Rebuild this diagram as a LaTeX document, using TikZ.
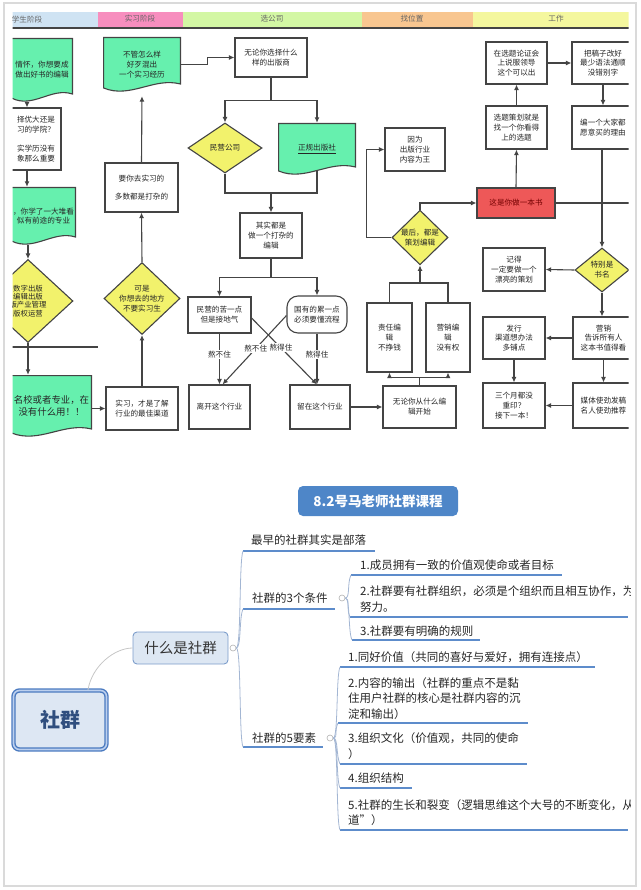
\documentclass[tikz,border=0pt]{standalone}
\usepackage{fontspec}
\setmainfont{Noto Sans CJK SC}
\usetikzlibrary{arrows.meta,shapes.geometric,calc}

\definecolor{linegray}{HTML}{444444}
\definecolor{docgreen}{HTML}{66F0AE}
\definecolor{decyellow}{HTML}{F2F26C}
\definecolor{bookred}{HTML}{EE5858}
\definecolor{bandblue}{HTML}{CFE3F3}
\definecolor{bandpink}{HTML}{F78EBE}
\definecolor{bandgreen}{HTML}{D3F7A4}
\definecolor{bandorange}{HTML}{F8C690}
\definecolor{bandyellow}{HTML}{F4F79E}
\definecolor{titleblue}{HTML}{4E86C8}
\definecolor{ulblue}{HTML}{5D8CCB}
\definecolor{twigblue}{HTML}{A3B6D3}
\definecolor{topicfill}{HTML}{DDE7F3}
\definecolor{topicline}{HTML}{7C9DCB}
\definecolor{rootline}{HTML}{4A7AC0}
\definecolor{rootgap}{HTML}{BCD0EE}
\definecolor{roottext}{HTML}{2F4E7E}
\definecolor{framegray}{HTML}{DADADA}

\begin{document}
\begin{tikzpicture}[
  x=1pt, y=-1pt,
  fc/.style={font=\fontsize{7.6}{9.8}\selectfont, text=black!85, align=center, inner sep=0pt},
  box/.style={fc, draw=linegray, line width=1.1pt, fill=white},
  choice/.style={fc, diamond, draw=linegray, line width=1.1pt, fill=decyellow},
  doc/.style={fc, path picture={
    \filldraw[fill=docgreen, draw=linegray, line width=1.1pt]
      ([shift={(0.55pt,-0.55pt)}]path picture bounding box.north west)
      -- ([shift={(-0.55pt,-0.55pt)}]path picture bounding box.north east)
      -- ([shift={(-0.55pt,8pt)}]path picture bounding box.south east)
      .. controls ($(path picture bounding box.south west)!0.65!(path picture bounding box.south east)+(0pt,15pt)$)
      and ($(path picture bounding box.south west)!0.35!(path picture bounding box.south east)+(0pt,-7pt)$)
      .. ([shift={(0.55pt,4pt)}]path picture bounding box.south west) -- cycle;}},
  arrow/.style={-{Latex[length=5.5pt,width=5pt]}, draw=linegray, line width=1.1pt},
  link/.style={draw=linegray, line width=1.1pt},
  band/.style={font=\fontsize{7.6}{9}\selectfont, text=black!60, inner sep=0pt},
  tag/.style={fc, fill=white, inner sep=1pt},
  title/.style={fill=titleblue, text=white, rounded corners=5pt, minimum width=160, minimum height=30,
    font=\fontsize{13.5}{16}\selectfont\bfseries},
  root/.style={draw=rootline, double=rootgap, double distance=1.6pt, line width=1.4pt, fill=topicfill,
    rounded corners=6pt, minimum width=93, minimum height=59, text=roottext,
    font=\fontsize{20}{24}\selectfont\bfseries},
  topic/.style={draw=topicline, line width=0.9pt, fill=topicfill, rounded corners=4pt,
    minimum width=95, minimum height=32, text=black!80, font=\fontsize{14.5}{17}\selectfont},
  leaf/.style={anchor=north west, inner sep=0pt, align=left, text=black!85,
    font=\fontsize{11.5}{16}\selectfont},
  uline/.style={draw=ulblue, line width=1.3pt},
  twig/.style={draw=twigblue, line width=0.8pt},
  fold/.style={circle, draw=gray!60, fill=white, inner sep=0pt, minimum size=6pt, line width=0.6pt}
]
\useasboundingbox (0,0) rectangle (640,890);
\draw[framegray, line width=1.2pt] (4,3) rectangle (636,886);

% flow chart, cut at both sides
\begin{scope}
\clip (12.5,10) rectangle (628.5,440);

% lanes
\fill[bandblue] (0,12) rectangle (98,27);
\fill[bandpink] (98,12) rectangle (183,27);
\fill[bandgreen] (183,12) rectangle (362,27);
\fill[bandorange] (362,12) rectangle (473,27);
\fill[bandyellow] (473,12) rectangle (640,27);
\draw[linegray, line width=1.2pt] (0,28) -- (640,28);
\node[band] (lane1) at (27,20) {学生阶段};
\node[band] (lane2) at (140,19) {实习阶段};
\node[band] (lane3) at (272,19) {选公司};
\node[band] (lane4) at (412,19) {找位置};
\node[band] (lane5) at (556,19) {工作};
\draw[link] (0,347) -- (98,347);

% student
\node[doc, minimum width=62, minimum height=64] (a1) at (42,70) {情怀，你想要成\\做出好书的编辑};
\node[box, minimum width=50, minimum height=62] (a2) at (36,139) {择优大还是\\习的学院？\\[9pt]实学历没有\\象那么重要};
\node[doc, minimum width=65, minimum height=58] (a3) at (43.5,216) {，你学了一大堆看\\似有前途的专业};
\node[choice, minimum width=90, minimum height=83, font=\fontsize{7.4}{8.2}\selectfont] (a4) at (28,301) {数字出版\\编辑出版\\版产业管理\\版权运营};
\node[doc, minimum width=81, minimum height=62, font=\fontsize{9.4}{12}\selectfont] (a5) at (51.5,406) {名校或者专业，在\\没有什么用！！};

% internship
\node[doc, minimum width=78, minimum height=55] (b1) at (142,64.5) {不管怎么样\\好歹混出\\一个实习经历};
\node[box, minimum width=73, minimum height=49] (b2) at (141.5,187.5) {要你去实习的\\[9pt]多数都是打杂的};
\node[choice, minimum width=76, minimum height=65] (b3) at (142,298.5) {可是\\你想去的地方\\不要实习生};
\node[box, minimum width=72, minimum height=43] (b4) at (142,408.5) {实习，才是了解\\行业的最佳渠道};

% company
\node[box, minimum width=72, minimum height=39] (c1) at (271,57.5) {无论你选择什么\\样的出版商};
\node[choice, minimum width=74, minimum height=50] (c2) at (225,148) {民营公司};
\node[doc, minimum width=78, minimum height=52] (c3) at (317,149) {\underline{正规出版社}};
\node[box, minimum width=62, minimum height=45] (c4) at (271,235.5) {其实都是\\做一个打杂的\\编辑};
\node[box, minimum width=63, minimum height=36] (c5) at (219.5,315) {民营的苦一点\\但是接地气};
\node[box, rounded corners=11pt, minimum width=60, minimum height=37] (c6) at (317,314.5) {国有的累一点\\必须要懂流程};
\node[box, minimum width=61, minimum height=44] (c7) at (219.5,407) {离开这个行业};
\node[box, minimum width=60, minimum height=44] (c8) at (320,407) {留在这个行业};

% position
\node[box, minimum width=60, minimum height=43] (d1) at (415,149.5) {因为\\出版行业\\内容为王};
\node[choice, minimum width=56, minimum height=51] (d2) at (420,237.5) {最后，都是\\策划编辑};
\node[box, minimum width=45, minimum height=69] (d3) at (389.5,337.5) {责任编\\辑\\不挣钱};
\node[box, minimum width=44, minimum height=69] (d4) at (448,337.5) {营销编\\辑\\没有权};
\node[box, minimum width=73, minimum height=42] (d5) at (419.5,407) {无论你从什么编\\辑开始};

% work
\node[box, fill=bookred, text=red!45!black, minimum width=78, minimum height=30] (e1) at (516,203) {这是你做一本书};
\node[box, minimum width=61, minimum height=43] (e2) at (516.5,127.5) {选题策划就是\\找一个你看得\\上的选题};
\node[box, minimum width=61, minimum height=42] (e3) at (516.5,63) {在选题论证会\\上说服领导\\这个可以出};
\node[box, minimum width=62, minimum height=42] (e4) at (603,63) {把稿子改好\\最少语法通顺\\没错别字};
\node[box, minimum width=62, minimum height=43] (e5) at (603,127.5) {编一个大家都\\愿意买的理由};
\node[choice, minimum width=54, minimum height=44] (e6) at (602,270) {特别是\\书名};
\node[box, minimum width=62, minimum height=43] (e7) at (514,269.5) {记得\\一定要做一个\\漂亮的策划};
\node[box, minimum width=61, minimum height=42] (e8) at (603.5,338) {营销\\告诉所有人\\这本书值得看};
\node[box, minimum width=62, minimum height=42] (e9) at (514,338) {发行\\渠道想办法\\多铺点};
\node[box, minimum width=62, minimum height=45] (e10) at (514,405.5) {三个月都没\\重印？\\接下一本！};
\node[box, minimum width=61, minimum height=45] (e11) at (603.5,405.5) {媒体使劲发稿\\名人使劲推荐};

% student links
\coordinate (ax) at (27,0);
\draw[arrow] (a1.south -| ax) -- (a2.north -| ax);
\draw[arrow] (a2.south -| ax) -- (a3.north -| ax);
\draw[arrow] (a3.south -| a4.north) -- (a4.north);
\draw[arrow] (a4.south) -- (a5.north -| a4.south);
\draw[arrow] (a5.east |- b4) -- (b4.west);

% internship links
\draw[arrow] (b4.north) -- (b3.south);
\draw[arrow] (b3.north) -- (b2.south);
\draw[arrow, shorten >=4pt] (b2.north) -- (b1.south);
\draw[arrow] (b1.east) -- ++(26,0) |- (c1.west);

% company links
\draw[link] (c1.south) -- ++(0,23) coordinate (c1split);
\draw[arrow] (c1split) -| (c2.north);
\draw[arrow] (c1split) -| (c3.north);
\coordinate (cjoin) at (271,193);
\draw[link] (c2.south) |- (cjoin) -| ([yshift=4.5pt]c3.south);
\draw[arrow] (cjoin) -- (c4.north);
\draw[link] (c4.south) -- ++(0,19) coordinate (c4split);
\draw[arrow] (c4split) -| (c5.north);
\draw[arrow] (c4split) -| (c6.north);
\draw[arrow] (c5.south) -- node[tag, pos=0.42] (t1) {熬不住} (c7.north);
\draw[arrow] (c6.south) -- node[tag, pos=0.42] (t2) {熬得住} (c6.south |- c8.north);
\draw[arrow] ([yshift=-3pt]c5.east) -- node[tag, pos=0.45] (t3) {熬得住} ([xshift=-3pt]c8.north);
\draw[arrow] ([yshift=-1pt]c6.west) -- node[tag, pos=0.48] (t4) {熬不住} ([xshift=3pt]c7.north);
\draw[arrow] (c8.east) -- (d5.west);

% position links
\draw[link] (d5.north) -- ++(0,-8) coordinate (d5split);
\draw[arrow] (d5split) -| (d3.south);
\draw[arrow] (d5split) -| (d4.south);
\coordinate (djoin) at (420,283);
\draw[link] (d3.north) |- (djoin) -| (d4.north);
\draw[arrow] (djoin) -- (d2.south);
\draw[arrow] (d2.west) -- ++(-25,0) |- (d1.west);
\draw[arrow] (d2.north) |- (e1.west);

% work links
\draw[arrow] (e1.north) -- (e2.south);
\draw[arrow] (e2.north) -- (e3.south);
\draw[arrow] (e3.east) -- (e4.west);
\draw[arrow] (e4.south) -- (e5.north);
\draw[arrow] (e5.south -| e6.north) -- (e6.north);
\coordinate (eout) at (640,203);
\draw[link] (e1.east) -- (eout);
\draw[arrow] (e6.west) -- (e7.east);
\draw[arrow] (e6.south) -- (e8.north -| e6.south);
\draw[arrow] (e8.west) -- (e9.east);
\draw[arrow] (e9.south) -- (e10.north);
\draw[arrow] (e8.south) -- (e11.north);
\draw[arrow] (e11.west) -- (e10.east);
\end{scope}

% mind map
\begin{scope}
\clip (5,470) rectangle (630,885);
\node[title] (course) at (378,501) {8.2号马老师社群课程};
\node[root] (root) at (60,720) {社群};
\node[topic] (what) at (180.5,648) {什么是社群};
\draw[twig, draw=gray!45] ([xshift=28pt]root.north) .. controls +(4,-24) and +(-18,0) .. (what.west);

\node[leaf] (tribe) at (251,534.25) {最早的社群其实是部落};
\node[leaf] (three) at (252,592.25) {社群的3个条件};
\node[leaf] (five) at (252,732.25) {社群的5要素};
\draw[uline] (243,551) coordinate (tribeL) -- (375,551);
\draw[uline] (243,609) coordinate (threeL) -- (335,609);
\draw[uline] (243,747) coordinate (fiveL) -- (323,747);

\node[leaf] (c31) at (360,559.25) {1.成员拥有一致的价值观使命或者目标};
\node[leaf] (c32) at (360,585.25) {2.社群要有社群组织，必须是个组织而且相互协作，为\\努力。};
\node[leaf] (c33) at (360,625.75) {3.社群要有明确的规则};
\draw[uline] (351,575) coordinate (c31L) -- (562,575);
\draw[uline] (350,617) coordinate (c32L) -- (628,617);
\draw[uline] (352,640) coordinate (c33L) -- (480,640);

\node[leaf] (f51) at (348,651.25) {1.同好价值（共同的喜好与爱好，拥有连接点）};
\node[leaf, font=\fontsize{11.5}{15.5}\selectfont] (f52) at (348,677.25) {2.内容的输出（社群的重点不是黏\\住用户社群的核心是社群内容的沉\\淀和输出）};
\node[leaf] (f53) at (348,732.25) {3.组织文化（价值观，共同的使命\\）};
\node[leaf] (f54) at (348,772.75) {4.组织结构};
\node[leaf, font=\fontsize{11.5}{15.5}\selectfont] (f55) at (348,799.25) {5.社群的生长和裂变（逻辑思维这个大号的不断变化，从\\道”）};
\draw[uline] (340,667) coordinate (f51L) -- (595,667);
\draw[uline] (338,723) coordinate (f52L) -- (528,723);
\draw[uline] (340,764) coordinate (f53L) -- (527,764);
\draw[uline] (340,788) coordinate (f54L) -- (412,788);
\draw[uline] (340,830) coordinate (f55L) -- (628,830);

\node[fold] (f0) at (233,648) {};
\node[fold] (f1) at (342,598) {};
\node[fold] (f2) at (330,738) {};

\draw[twig] (f0.east) .. controls +(5,0) and +(-4,9) .. (tribeL);
\draw[twig] (f0.east) .. controls +(5,0) and +(-4,9) .. (threeL);
\draw[twig] (f0.east) .. controls +(5,0) and +(-4,-9) .. (fiveL);
\draw[twig] (f1.east) .. controls +(5,0) and +(-4,8) .. (c31L);
\draw[twig] (f1.east) .. controls +(5,0) and +(-4,-8) .. (c32L);
\draw[twig] (f1.east) .. controls +(5,0) and +(-4,-8) .. (c33L);
\draw[twig] (f2.east) .. controls +(5,0) and +(-4,8) .. (f51L);
\draw[twig] (f2.east) .. controls +(5,0) and +(-4,8) .. (f52L);
\draw[twig] (f2.east) .. controls +(5,0) and +(-4,-8) .. (f53L);
\draw[twig] (f2.east) .. controls +(5,0) and +(-4,-8) .. (f54L);
\draw[twig] (f2.east) .. controls +(5,0) and +(-4,-8) .. (f55L);
\end{scope}
\end{tikzpicture}
\end{document}
